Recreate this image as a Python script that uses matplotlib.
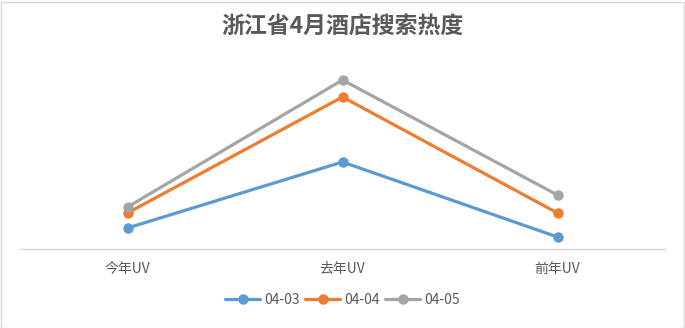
import matplotlib.pyplot as plt
from matplotlib.patches import Rectangle

plt.rcParams['font.family'] = ['Noto Sans CJK SC', 'DejaVu Sans']

# search heat per category for each day
categories = ['今年UV', '去年UV', '前年UV']
series_names = ['04-03', '04-04', '04-05']
uv_0403 = [21, 87, 12]
uv_0404 = [36, 152, 36]
uv_0405 = [42, 169, 54]
colors = ['#5B9BD5', '#ED7D31', '#A5A5A5']


def main():
    fig = plt.figure(figsize=(6.85, 3.28), dpi=100)
    ax = fig.add_axes([20 / 685, 1 - 249 / 328, 645 / 685, 199 / 328])

    xs = range(len(categories))
    for name, vals, c in zip(series_names, [uv_0403, uv_0404, uv_0405], colors):
        ax.plot(xs, vals, color=c, lw=2.3, marker='o', ms=6.5,
                solid_capstyle='round', label=name)

    ax.set_xlim(-0.5, 2.5)
    ax.set_ylim(0, 199)
    ax.set_yticks([])
    ax.set_xticks(list(xs))
    ax.set_xticklabels(categories, fontsize=10, color='#595959')
    ax.tick_params(axis='x', length=0, pad=9)
    for side in ['top', 'left', 'right']:
        ax.spines[side].set_visible(False)
    ax.spines['bottom'].set_color('#D9D9D9')
    ax.spines['bottom'].set_linewidth(1)

    fig.text(0.5, 1 - 27 / 328, '浙江省4月酒店搜索热度', ha='center', va='center',
             fontsize=16.5, fontweight='bold', color='#595959')

    fig.legend(loc='center', bbox_to_anchor=(0.5, 1 - 300 / 328), ncol=3,
               frameon=False, fontsize=10, labelcolor='#595959',
               handlelength=2.5, handletextpad=0.3, columnspacing=0.4)

    fig.patches.append(Rectangle((0.5 / 685, 0.5 / 328), 683 / 685, 326 / 328,
                                 transform=fig.transFigure, fill=False,
                                 edgecolor='#D9D9D9', lw=1))
    fig.savefig('out.png', dpi=100)


if __name__ == '__main__':
    main()
